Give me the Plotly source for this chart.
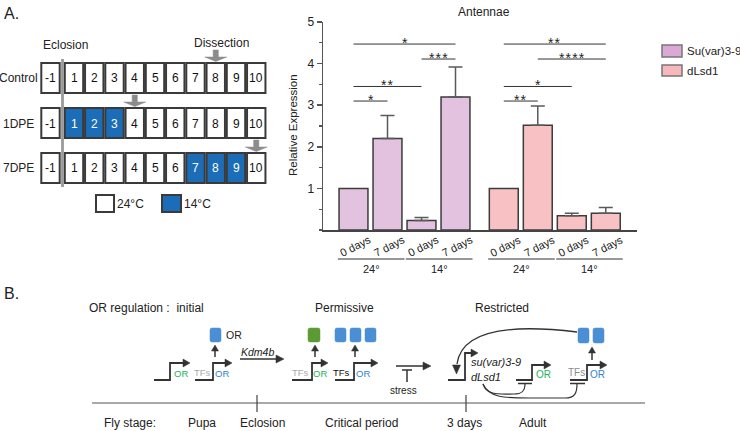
import math
import plotly.graph_objects as go

W, H = 740, 431
FONT = "Liberation Sans, Arial, sans-serif"

# ---------------- Data: bar chart (Antennae) ----------------
temps = ["24°", "14°"]
day_labels = ["0 days", "7 days", "0 days", "7 days"]
series_names = ["Su(var)3-9", "dLsd1"]
suvar_mean = [1.00, 2.20, 0.23, 3.20]
suvar_err = [0.0, 0.55, 0.07, 0.72]
lsd1_mean = [1.00, 2.52, 0.34, 0.40]
lsd1_err = [0.0, 0.46, 0.06, 0.14]
y_ticks = [1, 2, 3, 4, 5]
sig_suvar = [(0, 1, 3.10, "*"), (0, 2, 3.45, "**"), (2, 3, 4.11, "***"), (0, 3, 4.47, "*")]
sig_lsd1 = [(0, 1, 3.10, "**"), (0, 2, 3.45, "*"), (1, 3, 4.11, "****"), (0, 3, 4.47, "**")]

# ---------------- Data: schedule (panel A left) ----------------
sched_days = [-1, 1, 2, 3, 4, 5, 6, 7, 8, 9, 10]
sched_rows = ["Control", "1DPE", "7DPE"]
cold_days = [[], [1, 2, 3], [7, 8, 9]]
dissect_day = [8, 4, 10]

# ---------------- Data: panel B ----------------
stage_labels = ["Pupa", "Eclosion", "Critical period", "3 days", "Adult"]
phase_labels = ["Permissive", "Restricted"]

SUVAR_FILL = "#e2c2de"
LSD1_FILL = "#f8c2c4"
SUVAR_LEG = "#dba9d5"
LSD1_LEG = "#f6b8ba"
BLUE = "#1c6db8"
SQ_BLUE = "#4a8fd4"
SQ_GREEN = "#5c9a33"
TXT_GREEN = "#1db35a"
TXT_BLUE = "#2e85d0"
DARK = "#333333"

shapes, ann = [], []


def px(x):
    return x / W


def py(y):
    return 1 - y / H


def L(x0, y0, x1, y1, color=DARK, w=1.5):
    shapes.append(dict(type="line", xref="paper", yref="paper", x0=px(x0), y0=py(y0),
                       x1=px(x1), y1=py(y1), line=dict(color=color, width=w)))


def R(x0, y0, x1, y1, fill, lc=DARK, lw=2):
    shapes.append(dict(type="rect", xref="paper", yref="paper", x0=px(x0), y0=py(y0),
                       x1=px(x1), y1=py(y1), fillcolor=fill, line=dict(color=lc, width=lw)))


def P(points_path, fill=None, lc=DARK, lw=1.5):
    d = dict(type="path", xref="paper", yref="paper", path=points_path, line=dict(color=lc, width=lw))
    if fill:
        d["fillcolor"] = fill
    shapes.append(d)


def pt(x, y):
    return f"{px(x):.5f},{py(y):.5f}"


def T(x, y, text, size=12, color="#222", xa="center", ya="middle", angle=0, font=FONT):
    ann.append(dict(xref="paper", yref="paper", x=px(x), y=py(y), text=text, showarrow=False,
                    xanchor=xa, yanchor=ya, textangle=angle, borderpad=0,
                    font=dict(family=font, size=size, color=color)))


def head(x1, y1, ux, uy, hl=7, hw=7, color=DARK):
    bx, by = x1 - ux * hl, y1 - uy * hl
    nx, ny = -uy, ux
    P(f"M{pt(x1, y1)} L{pt(bx + nx * hw / 2, by + ny * hw / 2)} L{pt(bx - nx * hw / 2, by - ny * hw / 2)} Z",
      fill=color, lc=color, lw=0.5)
    return bx, by


def arrow(x0, y0, x1, y1, hl=7, hw=7, color=DARK, lw=1.5):
    dx, dy = x1 - x0, y1 - y0
    d = math.hypot(dx, dy)
    ux, uy = dx / d, dy / d
    bx, by = head(x1, y1, ux, uy, hl, hw, color)
    L(x0, y0, bx + ux, by + uy, color, lw)


def promoter(x0, xv, ybase, ytop, xtip):
    P(f"M{pt(x0, ybase)} L{pt(xv, ybase)} L{pt(xv, ytop)} L{pt(xtip - 6, ytop)}", lc=DARK, lw=1.8)
    head(xtip, ytop, 1, 0, 7, 8)


def rsq(x0, y0, x1, y1, fill, r=2):
    P(f"M{pt(x0 + r, y0)} L{pt(x1 - r, y0)} Q{pt(x1, y0)} {pt(x1, y0 + r)} L{pt(x1, y1 - r)} "
      f"Q{pt(x1, y1)} {pt(x1 - r, y1)} L{pt(x0 + r, y1)} Q{pt(x0, y1)} {pt(x0, y1 - r)} "
      f"L{pt(x0, y0 + r)} Q{pt(x0, y0)} {pt(x0 + r, y0)} Z", fill=fill, lc=fill, lw=0.5)


def block_arrow(xc, ytop, ytip, color="#8c8c8c"):
    sw, hw = 2.6, 11
    yse = ytip - 4.5
    P(f"M{pt(xc - sw, ytop)} L{pt(xc + sw, ytop)} L{pt(xc + sw, yse)} L{pt(xc + hw, yse)} "
      f"L{pt(xc, ytip)} L{pt(xc - hw, yse)} L{pt(xc - sw, yse)} Z", fill=color, lc=color, lw=0.5)


# ================= Panel A: schedule =================
T(3, 13, "A.", size=16, xa="left")
T(42, 45, "Eclosion", xa="left")
T(193, 43, "Dissection", xa="left")

row_top = [63, 108, 153]
row_h = 30


def col_center(d):
    return 50.5 if d == -1 else 74 + (d - 1) * 20.25


for r, name in enumerate(sched_rows):
    y0 = row_top[r]
    T(18, y0 + row_h / 2 + 0.5, name)
    for d in sched_days:
        c = col_center(d)
        cold = d in cold_days[r]
        R(c - 9.2, y0, c + 9.2, y0 + row_h, BLUE if cold else "white", lc="#3a3a3a", lw=2)
        T(c, y0 + row_h / 2 + 0.5, str(d), size=12, color="white" if cold else "#111")
    dd = dissect_day[r]
    block_arrow(col_center(dd), y0 - 13, y0 - 1.5)

L(62.5, 59, 62.5, 187, color="#9a9a9a", w=2.8)

R(96, 195, 114, 212, "white", lc="#3a3a3a", lw=2)
T(116, 204, "24°C", xa="left")
R(162, 195, 181, 212, BLUE, lc="#3a3a3a", lw=2)
T(183, 204, "14°C", xa="left")

# ================= Panel A: bar chart =================
X0PX, PITCH = 353.5, 34.0
pos_s = [float(i) for i in range(len(suvar_mean))]
pos_l = [i + 4.42 for i in range(len(lsd1_mean))]

fig = go.Figure()
for name, pos, mean, err, fill in [(series_names[0], pos_s, suvar_mean, suvar_err, SUVAR_FILL),
                                   (series_names[1], pos_l, lsd1_mean, lsd1_err, LSD1_FILL)]:
    fig.add_trace(go.Bar(
        x=pos, y=mean, name=name, width=0.85, showlegend=False,
        marker=dict(color=fill, line=dict(color="#3c3c3c", width=1.5)),
    ))
    keep = [k for k, e in enumerate(err) if e > 0]
    fig.add_trace(go.Scatter(
        x=[pos[k] for k in keep], y=[mean[k] for k in keep], mode="markers",
        marker=dict(size=1, opacity=0), showlegend=False, hoverinfo="skip",
        error_y=dict(type="data", array=[err[k] for k in keep], arrayminus=[0] * len(keep),
                     symmetric=False, color="#5a5a5a", thickness=1.5, width=7),
    ))

for pos, sigs in [(pos_s, sig_suvar), (pos_l, sig_lsd1)]:
    for i, j, yv, lab in sigs:
        shapes.append(dict(type="line", xref="x", yref="y", x0=pos[i], x1=pos[j], y0=yv, y1=yv,
                           line=dict(color=DARK, width=1)))
        ann.append(dict(xref="x", yref="y", x=(pos[i] + pos[j]) / 2, y=yv, yshift=1,
                        text="\u200a".join(lab), showarrow=False, xanchor="center", yanchor="middle",
                        borderpad=0, font=dict(family=FONT, size=14, color="#222")))

for pos in (pos_s, pos_l):
    for k, p in enumerate(pos):
        ann.append(dict(xref="x", yref="paper", x=p, y=py(246), xshift=2, text=day_labels[k],
                        showarrow=False, textangle=-27, xanchor="center", yanchor="middle",
                        borderpad=0, font=dict(family=FONT, size=11, color="#222")))
    for g in range(2):
        a, b = pos[2 * g], pos[2 * g + 1]
        shapes.append(dict(type="line", xref="x", yref="paper", x0=a - 0.46, x1=b + 0.5,
                           y0=py(259), y1=py(259), line=dict(color=DARK, width=1.2)))
        ann.append(dict(xref="x", yref="paper", x=(a + b) / 2 + 0.02, y=py(269), text=temps[g],
                        showarrow=False, xanchor="center", yanchor="middle", borderpad=0,
                        font=dict(family=FONT, size=11, color="#222")))

T(484, 12, "Antennae", size=12)
T(293, 125, "Relative Expression", size=11.5, angle=-90)

# manual legend
R(662, 45, 682, 57, SUVAR_LEG, lc="#777", lw=1.5)
T(686, 51, series_names[0], xa="left", size=11.5)
R(662, 65, 682, 76, LSD1_LEG, lc="#777", lw=1.5)
T(686, 70.5, series_names[1], xa="left", size=11.5)

# ================= Panel B =================
T(3, 293, "B.", size=16, xa="left")
T(88, 308, "OR regulation :\u00a0 initial", xa="left", size=12)
T(344, 308, phase_labels[0], size=12)
T(502, 308, phase_labels[1], size=12)

# gene 1
promoter(154, 170, 380, 363, 190)
T(181, 373.5, "OR", size=9.5, color=TXT_GREEN)
# gene 2
T(202, 372, "TFs", size=9.5, color="#aaaaaa")
promoter(195, 213, 380, 363, 232)
T(222, 373.5, "OR", size=9.5, color=TXT_BLUE)
arrow(215, 357, 215, 345, hl=6, hw=7)
rsq(210, 328, 221, 342, SQ_BLUE)
T(225, 335, "OR", size=10.5, xa="left")
# Kdm4b
arrow(240, 359, 284, 359, hl=8, hw=8)
T(240, 352, "<i>Kdm4b</i>", size=10.5, xa="left")
# gene 3
T(300, 372, "TFs", size=9.5, color="#aaaaaa")
promoter(292, 312, 380, 363, 328)
T(320, 373.5, "OR", size=9.5, color=TXT_GREEN)
arrow(315, 357, 315, 345, hl=6, hw=7)
rsq(308, 328, 320, 342, SQ_GREEN)
# gene 4
T(341, 372, "TFs", size=9.5, color="#111")
promoter(335, 354, 380, 363, 378)
T(362.5, 373.5, "OR", size=9.5, color=TXT_BLUE)
arrow(355, 357, 355, 345, hl=6, hw=7)
for xs in (335, 350, 365):
    rsq(xs, 328, xs + 11, 342, SQ_BLUE)

# stress
arrow(396, 366, 431, 366, hl=8, hw=8)
L(402, 370, 412, 370, w=1.5)
L(407, 370, 407, 382, w=1.5)
T(403, 390, "stress", size=10)

# restricted
promoter(448, 465, 380, 353, 478)
T(470, 362, "<i>su(var)3-9</i>", size=11, xa="left")
T(470, 377, "<i>dLsd1</i>", size=11, xa="left")
P(f"M{pt(577, 332)} C{pt(520, 325)} {pt(462, 326)} {pt(457, 364)}", lc=DARK, lw=1.3)
head(456.5, 374, 0, 1, 9, 8)

promoter(516, 532, 380, 365, 551)
T(543, 374, "OR", size=10, color=TXT_GREEN)
L(518, 383.5, 532, 383.5, w=1.5)
P(f"M{pt(483, 384)} C{pt(487, 396)} {pt(500, 394)} {pt(514, 394)} C{pt(522, 394)} {pt(525, 391)} {pt(525, 384)}",
  lc=DARK, lw=1.2)

T(576, 372, "TFs", size=10, color="#8c8c8c")
promoter(570, 587, 380, 365, 607)
T(597, 374, "OR", size=10, color=TXT_BLUE)
L(570, 383.5, 585, 383.5, w=1.5)
P(f"M{pt(483, 384)} C{pt(489, 398)} {pt(505, 398)} {pt(530, 398)} L{pt(565, 398)} "
  f"C{pt(575, 398)} {pt(577, 393)} {pt(577, 384)}", lc=DARK, lw=1.2)
arrow(592, 360, 592, 347, hl=6, hw=7)
rsq(578, 328, 589, 343, SQ_BLUE)
rsq(593, 328, 604, 343, SQ_BLUE)

# timeline
L(92, 403, 645, 403, color="#555", w=1.2)
L(257, 395, 257, 412, color="#444", w=1.2)
L(466, 395, 466, 412, color="#444", w=1.2)
T(103, 423, "Fly stage:", xa="left")
for lab, xc in zip(stage_labels, [202, 262, 361, 464, 533]):
    T(xc, 423, lab)

fig.update_layout(
    width=W, height=H, margin=dict(l=0, r=0, t=0, b=0, pad=0),
    paper_bgcolor="white", plot_bgcolor="rgba(0,0,0,0)",
    shapes=shapes, annotations=ann, bargap=0, barmode="overlay", hovermode=False,
    xaxis=dict(domain=[323 / W, 637 / W], range=[(323 - X0PX) / PITCH, (637 - X0PX) / PITCH],
               showline=True, linecolor="#444", linewidth=1.5, showticklabels=False,
               ticks="", showgrid=False, zeroline=False, fixedrange=True, automargin=False),
    yaxis=dict(domain=[1 - 230 / H, 1 - 22 / H], range=[0, 5], tickvals=y_ticks,
               showline=True, linecolor="#555", linewidth=1.5, ticks="outside", ticklen=5,
               tickwidth=1.5, tickcolor="#555", showgrid=False, zeroline=False,
               tickfont=dict(family=FONT, size=12, color="#222"),
               minor=dict(dtick=0.5, ticks="outside", ticklen=3, tickcolor="#555", tickwidth=1.2),
               fixedrange=True, automargin=False),
    font=dict(family=FONT),
)

fig.write_html("out.html", config={"displayModeBar": False, "staticPlot": True},
               post_script="document.body.style.margin='0';document.body.style.overflow='hidden';")
